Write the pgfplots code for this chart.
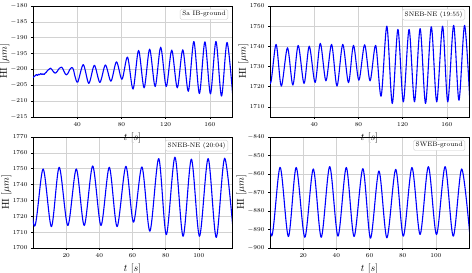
\documentclass[border=0pt]{standalone}
\usepackage{pgfplots}
\pgfplotsset{compat=1.18}
\pgfplotsset{
  myax/.style={
    scale only axis, width=199pt, height=111pt, anchor=south west,
    axis line style={black, line width=0.6pt},
    grid=major, major grid style={gray!35, line width=0.5pt},
    tick align=outside, major tick length=2pt, tick pos=left,
    tick style={black, line width=0.5pt},
    ticklabel style={font=\fontsize{6.2}{7}\selectfont},
    /pgf/number format/set thousands separator={},
    xlabel={$t$ [$s$]}, ylabel={HI [$\mu m$]},
    label style={font=\normalsize},
    ylabel shift=-5.5pt, xlabel shift=0pt,
  },
}
\tikzset{
  ser/.style={blue, line width=1.1pt, smooth, line join=round},
  lab/.style={draw=gray!40, rounded corners=1.5pt, fill=white, font=\fontsize{6.5}{7}\selectfont, inner sep=2.2pt, anchor=north east},
}
\begin{document}
\begin{tikzpicture}
\path[use as bounding box] (0,0) rectangle (472pt,273pt);
% Panel 1
\begin{axis}[myax, at={(33pt,156pt)}, xmin=0, xmax=180, ymin=-215, ymax=-180,
  xtick={40,80,120,160}, ytick={-215,-210,...,-180}]
\addplot[ser, no markers] coordinates {
(0,-202.6) (1,-202.2) (2,-202.0) (3,-201.6) (4,-201.9) (5,-201.5) (6,-201.7) (7,-201.3) (8,-201.6) (9,-201.4) (10,-201.6) (11,-201.2) (12,-200.9) (13,-200.4) (14,-200.1) (15,-199.8) (16,-199.6) (17,-200.0) (18,-200.5) (19,-200.9) (20,-201.2) (21,-201.0) (22,-200.6) (23,-200.0) (24,-199.6) (25,-199.4) (26,-199.3) (27,-199.8) (28,-200.6) (29,-201.3) (30,-201.7) (31,-201.5) (32,-201.0) (33,-200.2) (34,-199.7) (35,-199.4) (36,-199.6) (37,-200.6) (38,-202.2)
(40.5,-204.0) (45.5,-198.5) (50.5,-204.4) (55.5,-198.7) (60.5,-204.1) (65.5,-198.6) (70.5,-203.7) (75.5,-197.6) (80.5,-203.1) (85.5,-196.1) (90.5,-206.2) (95.5,-194.0) (100.5,-205.8) (105.5,-193.6) (110.5,-205.4) (115.5,-193.0) (120.5,-205.4) (125.5,-193.9) (130.5,-205.8) (135.5,-193.8) (140.5,-206.9) (145.5,-191.2) (150.5,-207.6) (155.5,-191.3) (160.5,-207.7) (165.5,-191.2) (170.5,-208.4) (175.5,-191.5) (180.6,-208.0)
};
\node[lab] at (rel axis cs:0.98,0.973) {Sa IB-ground};
\end{axis}
% Panel 2
\begin{axis}[myax, at={(270pt,156pt)}, xmin=0, xmax=180, ymin=1705, ymax=1760,
  xtick={40,80,120,160}, ytick={1710,1720,...,1760}]
\addplot[ser, no markers] coordinates {
(-4.5,1740) (0.3,1721.5) (5.5,1741) (10.2,1720.3) (15.8,1739.3) (20.7,1720.8) (25.5,1740.5) (30.8,1721.6) (35.5,1740.1) (40.8,1722.1) (45.5,1741.5) (50.6,1722.9) (55.7,1741) (60.6,1720.3) (65.8,1741) (71,1722) (75.5,1740.5) (80.4,1723.2) (85.6,1740.8) (90.5,1722.9) (95.6,1740.5) (100.5,1715.3) (105.7,1750) (110.6,1711.7) (115.7,1748.4) (120.6,1712.5) (125.8,1748.4) (130.7,1712.5) (135.8,1748.8) (140.7,1711.7) (145.9,1749.7) (150.8,1712.5) (156.1,1750) (160.8,1712.5) (166.1,1750.4) (170.9,1713.3) (176,1750.4) (180.7,1713.5)
};
\node[lab] at (rel axis cs:0.98,0.973) {SNEB-NE (19:55)};
\end{axis}
% Panel 3
\begin{axis}[myax, at={(33pt,25pt)}, xmin=0, xmax=120, ymin=1700, ymax=1770,
  xtick={20,40,...,100}, ytick={1700,1710,...,1770}]
\addplot[ser, no markers] coordinates {
(-4,1750) (1,1713.8) (6.1,1749.8) (11.1,1713.5) (15.8,1750.9) (21,1714.2) (26.1,1749.8) (30.9,1714.2) (36,1751.7) (41,1714.2) (46,1750.9) (50.7,1713.5) (56,1751.5) (60.6,1716.3) (65.7,1751.1) (70.5,1710.6) (75.8,1756.4) (80.4,1708.4) (85.6,1757.3) (90.5,1707.4) (95.5,1756) (100.4,1707.4) (105.6,1756.4) (110.5,1706.7) (115.6,1756.6) (121,1707)
};
\node[lab] at (rel axis cs:0.98,0.973) {SNEB-NE (20:04)};
\end{axis}
% Panel 4
\begin{axis}[myax, at={(270pt,25pt)}, xmin=0, xmax=120, ymin=-900, ymax=-840,
  xtick={20,40,...,100}, ytick={-900,-890,...,-840}]
\addplot[ser, no markers] coordinates {
(-4,-856) (1,-893.5) (6.1,-856.4) (11.1,-893.8) (15.8,-856.5) (21,-894.2) (26.1,-857.3) (30.9,-894.2) (36,-856) (41,-893.6) (46,-856.5) (50.7,-893.8) (56,-857.1) (60.6,-894.7) (65.7,-858.4) (70.5,-894.5) (75.8,-857.5) (80.4,-893.6) (85.6,-856.5) (90.5,-892.7) (95.5,-856) (100.4,-892.7) (105.6,-856) (110.5,-893.6) (115.6,-857.3) (120.6,-893.8)
};
\node[lab] at (rel axis cs:0.98,0.973) {SWEB-ground};
\end{axis}
\end{tikzpicture}
\end{document}
